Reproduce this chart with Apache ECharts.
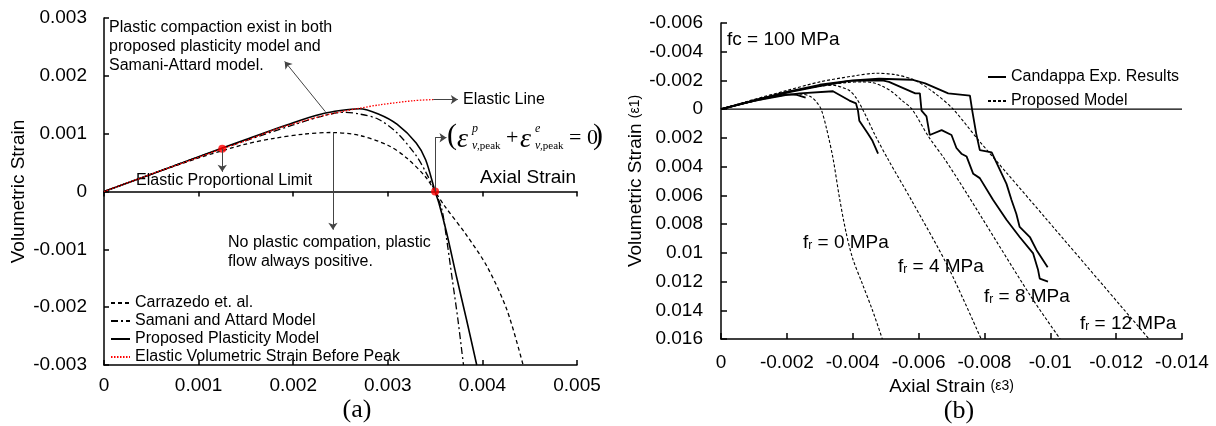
<!DOCTYPE html>
<html>
<head>
<meta charset="utf-8">
<script src="https://cdn.jsdelivr.net/npm/echarts@6/dist/echarts.min.js"></script>
<style>
  html, body { margin: 0; padding: 0; background: #fff; }
  #chart { width: 1216px; height: 426px; }
</style>
</head>
<body>
<div id="chart"></div>
<script>
// panel (a): axial strain vs volumetric strain, [x, y]
const carrazedo = [[0,0],[0.0005,0.0003],[0.001,0.00058],[0.0015,0.00082],[0.0018,0.00092],[0.0021,0.00099],[0.0024,0.00102],[0.0027,0.00097],[0.003,0.0008],[0.0032,0.00058],[0.0034,0.00025],[0.0035,0],[0.0036,-0.00025],[0.00383,-0.00075],[0.00405,-0.0013],[0.00426,-0.00205],[0.00443,-0.003]]
const samaniAttard = [[0,0],[0.0005,0.0003],[0.001,0.0006],[0.0015,0.00088],[0.002,0.00115],[0.0023,0.0013],[0.00253,0.00137],[0.0027,0.00134],[0.0029,0.00125],[0.0031,0.00101],[0.0033,0.00062],[0.0034,0.00034],[0.0035,0],[0.00357,-0.0003],[0.00362,-0.0008],[0.00368,-0.0015],[0.00374,-0.0022],[0.0038,-0.003]]
const proposedPlasticity = [[0,0],[0.0005,0.0003],[0.001,0.0006],[0.0015,0.0009],[0.002,0.00119],[0.0023,0.00134],[0.0025,0.0014],[0.0027,0.00143],[0.0029,0.00134],[0.0031,0.00116],[0.0033,0.00084],[0.0034,0.00055],[0.0035,0],[0.00354,-0.0002],[0.00362,-0.0007],[0.00373,-0.0015],[0.00383,-0.0022],[0.00394,-0.003]]
const elasticBeforePeak = [[0,0],[0.0005,0.0003],[0.001,0.00059],[0.00125,0.00074],[0.0015,0.00088],[0.00186,0.0011],[0.00234,0.00132],[0.00267,0.00143],[0.00292,0.0015],[0.00327,0.00157],[0.00348,0.00159]]
const markedPoints = [[0.00125,0.00074],[0.0035,0]]

// annotation arrows of panel (a), data coordinates
const arrowCompaction = [[0.00234,0.00138],[0.00191,0.00225]]
const arrowElasticLine = [[0.00348,0.00159],[0.00374,0.00159]]
const arrowPeakUp = [[0.0035,0],[0.0035,0.00093]]
const arrowPeakRight = [[0.0035,0.00093],[0.00362,0.00093]]
const arrowLimit = [[0.00125,0.00074],[0.00125,0.00034]]
const arrowNoPlastic = [[0.00242,0.00102],[0.00242,-0.00066]]

// panel (b): axial strain (e3) vs volumetric strain (e1)
const expFr0 = [[0,0],[-0.0005,-0.0003],[-0.001,-0.0006],[-0.0015,-0.00085],[-0.002,-0.00103],[-0.0023,-0.001],[-0.00257,-0.0008]]
const expFr4 = [[0,0],[-0.001,-0.00058],[-0.002,-0.001],[-0.0024,-0.0011],[-0.0034,-0.00125],[-0.0039,-0.0006],[-0.0041,-0.0004],[-0.00416,0.0001],[-0.0042,0.0008],[-0.00446,0.0017],[-0.0046,0.0022],[-0.00477,0.0031]]
const expFr8 = [[0,0],[-0.001,-0.0006],[-0.002,-0.00115],[-0.003,-0.0016],[-0.0039,-0.00197],[-0.0049,-0.002],[-0.0051,-0.0019],[-0.0059,-0.0011],[-0.00604,-0.0011],[-0.00609,0.0001],[-0.00624,0.0005],[-0.00634,0.0018],[-0.0067,0.00146],[-0.007,0.0018],[-0.00715,0.0027],[-0.0073,0.0031],[-0.00746,0.0033],[-0.00766,0.0045],[-0.00786,0.0048],[-0.00826,0.0063],[-0.00867,0.0077],[-0.00907,0.0089],[-0.00948,0.01004],[-0.00963,0.0112],[-0.00968,0.0118],[-0.00993,0.012]]
const expFr12 = [[0,0],[-0.001,-0.00062],[-0.002,-0.0012],[-0.003,-0.0017],[-0.004,-0.002],[-0.0048,-0.00212],[-0.0058,-0.00205],[-0.0062,-0.0018],[-0.0069,-0.0011],[-0.00756,-0.00095],[-0.00763,0.0001],[-0.00775,0.0017],[-0.00786,0.00285],[-0.00822,0.003],[-0.00867,0.0052],[-0.00882,0.0063],[-0.00897,0.0073],[-0.00907,0.0082],[-0.00938,0.0089],[-0.00958,0.0098],[-0.00992,0.011]]
const modelFr0 = [[0,0],[-0.0005,-0.00028],[-0.001,-0.00055],[-0.0015,-0.0008],[-0.002,-0.001],[-0.0024,-0.00105],[-0.0027,-0.0009],[-0.0029,-0.0005],[-0.00304,0],[-0.0032,0.0013],[-0.0034,0.0034],[-0.0036,0.0062],[-0.0038,0.0086],[-0.004,0.0104],[-0.0043,0.0122],[-0.0046,0.014],[-0.0049,0.016]]
const modelFr4 = [[0,0],[-0.001,-0.0006],[-0.002,-0.00115],[-0.0025,-0.0014],[-0.003,-0.0016],[-0.0034,-0.00167],[-0.0037,-0.0015],[-0.0039,-0.0013],[-0.0041,-0.0008],[-0.0043,0],[-0.0047,0.0019],[-0.0051,0.0036],[-0.0058,0.0064],[-0.0069,0.011],[-0.0079,0.016]]
const modelFr8 = [[0,0],[-0.001,-0.00062],[-0.002,-0.0012],[-0.003,-0.0016],[-0.0038,-0.00185],[-0.0043,-0.0019],[-0.0046,-0.00185],[-0.0049,-0.0016],[-0.0052,-0.0012],[-0.0055,-0.0006],[-0.0058,0],[-0.0063,0.0019],[-0.0068,0.0035],[-0.0075,0.006],[-0.0094,0.013],[-0.0103,0.016]]
const modelFr12 = [[0,0],[-0.001,-0.00068],[-0.002,-0.0013],[-0.003,-0.0019],[-0.004,-0.0023],[-0.0047,-0.0025],[-0.0053,-0.0024],[-0.0059,-0.002],[-0.0065,-0.0011],[-0.00705,0],[-0.0078,0.0021],[-0.0087,0.0045],[-0.0099,0.0077],[-0.013,0.016]]
const zeroLine = [[0,0],[-0.014,0]]

const SANS = '"Liberation Sans", Arial, sans-serif'
const SERIF = '"Liberation Serif", "Times New Roman", serif'
const INK = '#000'
const RED = '#ff0000'
const ARROW = '#444'

const NAMES_A = ['Carrazedo et. al.', 'Samani and Attard Model', 'Proposed Plasticity Model', 'Elastic Volumetric Strain Before Peak']
const NAMES_B = ['Candappa Exp. Results', 'Proposed Model']

const axisLine = { lineStyle: { color: INK, width: 1.5 } }
const tickLabel = { color: INK, fontSize: 19, fontFamily: SANS }
// legend shows only the line sample, no marker
const noMarker = { color: 'rgba(0,0,0,0)', borderColor: 'rgba(0,0,0,0)', borderWidth: 0, opacity: 0 }

function arrow(pts, head) {
  return [
    { coord: pts[0], symbol: 'none' },
    { coord: pts[1], symbol: head ? 'arrow' : 'none' },
  ]
}

function lineA(name, data, style, z) {
  return {
    name, type: 'line', data, xAxisIndex: 0, yAxisIndex: 0,
    symbol: 'none', smooth: 0.3, lineStyle: style, itemStyle: { color: style.color },
    z: z || 2, silent: true,
  }
}

function lineB(name, data, style) {
  return {
    name, type: 'line', data, xAxisIndex: 2, yAxisIndex: 1,
    symbol: 'none', smooth: style.type === 'solid' ? false : 0.3,
    lineStyle: style, itemStyle: { color: INK }, silent: true,
  }
}

const expStyle = { color: INK, width: 1.8, type: 'solid' }
const modelStyle = { color: INK, width: 1.1, type: [3, 2] }

function frLabel(value, x, y) {
  return {
    type: 'text', x, y,
    style: {
      text: '{a|f}{s|r}{a| = ' + value + ' MPa}',
      verticalAlign: 'middle', fill: INK,
      rich: {
        a: { fontSize: 19, fontFamily: SANS, fill: INK },
        s: { fontSize: 12, fontFamily: SANS, fill: INK, padding: [6, 0, 0, 0] },
      },
    },
  }
}

function txt(text, x, y, size, extra) {
  return {
    type: 'text', x, y,
    style: Object.assign({ text, fontSize: size, fontFamily: SANS, fill: INK, verticalAlign: 'middle' }, extra || {}),
  }
}

const chart = echarts.init(document.getElementById('chart'), null, { renderer: 'canvas' })

const option = {
  animation: false,
  backgroundColor: '#fff',
  grid: [
    { left: 104, top: 18, width: 473, height: 347 },
    { left: 721, top: 23, width: 461, height: 316 },
  ],
  xAxis: [
    {
      gridIndex: 0, type: 'value', min: 0, max: 0.005, interval: 0.001,
      axisLine: Object.assign({ onZero: true }, axisLine),
      axisTick: { inside: false, length: 5, lineStyle: { color: INK, width: 1.5 } },
      axisLabel: Object.assign({ margin: 11 }, tickLabel),
      splitLine: { show: false },
    },
    {
      gridIndex: 0, type: 'value', min: 0, max: 0.005, interval: 0.001, position: 'bottom',
      axisLine: Object.assign({ onZero: true }, axisLine),
      axisTick: { inside: true, length: 5, lineStyle: { color: INK, width: 1.5 } },
      axisLabel: { show: false },
      splitLine: { show: false },
    },
    {
      gridIndex: 1, type: 'value', min: -0.014, max: 0, interval: 0.002, inverse: true,
      axisLine: Object.assign({ onZero: false }, axisLine),
      axisTick: { inside: true, length: 6, lineStyle: { color: INK, width: 1.5 } },
      axisLabel: Object.assign({ margin: 14 }, tickLabel),
      splitLine: { show: false },
      name: '{a|Axial Strain }{s|(ε3)}', nameLocation: 'middle', nameGap: 36,
      nameTextStyle: {
        rich: {
          a: { fontSize: 19, fontFamily: SANS, color: INK },
          s: { fontSize: 14, fontFamily: SANS, color: INK },
        },
      },
    },
  ],
  yAxis: [
    {
      gridIndex: 0, type: 'value', min: -0.003, max: 0.003, interval: 0.001,
      axisLine: Object.assign({ show: true, onZero: false }, axisLine),
      axisTick: { show: true, inside: true, length: 5, lineStyle: { color: INK, width: 1.5 } },
      axisLabel: Object.assign({ margin: 17 }, tickLabel),
      splitLine: { show: false },
      name: 'Volumetric Strain', nameLocation: 'middle', nameGap: 76,
      nameTextStyle: { fontSize: 19, fontFamily: SANS, color: INK },
    },
    {
      gridIndex: 1, type: 'value', min: -0.006, max: 0.016, interval: 0.002, inverse: true,
      axisLine: Object.assign({ show: true, onZero: false }, axisLine),
      axisTick: { show: true, inside: true, length: 6, lineStyle: { color: INK, width: 1.5 } },
      axisLabel: Object.assign({ margin: 18 }, tickLabel),
      splitLine: { show: false },
      name: '{a|Volumetric Strain }{s|(ε1)}', nameLocation: 'middle', nameGap: 76,
      nameTextStyle: {
        rich: {
          a: { fontSize: 19, fontFamily: SANS, color: INK },
          s: { fontSize: 14, fontFamily: SANS, color: INK },
        },
      },
    },
  ],
  legend: [
    {
      data: NAMES_A, orient: 'vertical', left: 105, top: 290,
      itemWidth: 19, itemHeight: 10, itemGap: 2, selectedMode: false,
      itemStyle: noMarker,
      textStyle: { fontSize: 16, fontFamily: SANS, color: INK },
    },
    {
      data: NAMES_B, orient: 'vertical', left: 982, top: 64,
      itemWidth: 18, itemHeight: 10, itemGap: 8, selectedMode: false,
      itemStyle: noMarker,
      textStyle: { fontSize: 16, fontFamily: SANS, color: INK },
    },
  ],
  series: [
    lineA(NAMES_A[0], carrazedo, { color: INK, width: 1.3, type: [4, 3] }),
    lineA(NAMES_A[1], samaniAttard, { color: INK, width: 1.3, type: [7, 3, 2, 3] }),
    lineA(NAMES_A[2], proposedPlasticity, { color: INK, width: 1.6, type: 'solid' }),
    lineA(NAMES_A[3], elasticBeforePeak, { color: RED, width: 1.3, type: [1.5, 1.5] }, 3),
    {
      type: 'scatter', data: markedPoints, xAxisIndex: 0, yAxisIndex: 0,
      symbolSize: 8, itemStyle: { color: RED }, z: 4, silent: true,
      markLine: {
        silent: true, symbolSize: 7, animation: false,
        label: { show: false },
        lineStyle: { color: ARROW, width: 1, type: 'solid' },
        data: [
          arrow(arrowCompaction, true),
          arrow(arrowElasticLine, true),
          arrow(arrowPeakUp, false),
          arrow(arrowPeakRight, true),
          arrow(arrowLimit, true),
          arrow(arrowNoPlastic, true),
        ],
      },
    },
    lineB('zero', zeroLine, { color: INK, width: 1.2, type: 'solid' }),
    lineB(NAMES_B[0], expFr0, expStyle),
    lineB(NAMES_B[0], expFr4, expStyle),
    lineB(NAMES_B[0], expFr8, expStyle),
    lineB(NAMES_B[0], expFr12, expStyle),
    lineB(NAMES_B[1], modelFr0, modelStyle),
    lineB(NAMES_B[1], modelFr4, modelStyle),
    lineB(NAMES_B[1], modelFr8, modelStyle),
    lineB(NAMES_B[1], modelFr12, modelStyle),
  ],
  graphic: [
    txt('Plastic compaction exist in both\nproposed plasticity model and\nSamani-Attard model.', 109, 18.5, 16, { verticalAlign: 'top', lineHeight: 19 }),
    txt('Elastic Line', 463, 100, 16),
    txt('Elastic Proportional Limit', 136, 181, 16),
    txt('Axial Strain', 480, 178, 19),
    txt('No plastic compation, plastic\nflow always positive.', 228, 233.5, 16, { verticalAlign: 'top', lineHeight: 19 }),
    // peak condition formula
    txt('(', 447, 136, 30, { fontFamily: SERIF }),
    txt('ε', 457, 140, 28, { fontFamily: SERIF, fontStyle: 'italic' }),
    txt('p', 472, 129, 12, { fontFamily: SERIF, fontStyle: 'italic' }),
    txt('v', 472, 146, 12, { fontFamily: SERIF, fontStyle: 'italic' }),
    txt(',peak', 477, 146, 11, { fontFamily: SERIF }),
    txt('+', 506, 138, 22, { fontFamily: SERIF }),
    txt('ε', 520, 140, 28, { fontFamily: SERIF, fontStyle: 'italic' }),
    txt('e', 535, 129, 12, { fontFamily: SERIF, fontStyle: 'italic' }),
    txt('v', 535, 146, 12, { fontFamily: SERIF, fontStyle: 'italic' }),
    txt(',peak', 540, 146, 11, { fontFamily: SERIF }),
    txt('= 0', 569, 138, 22, { fontFamily: SERIF }),
    txt(')', 593, 136, 30, { fontFamily: SERIF }),
    txt('(a)', 357, 410, 26, { fontFamily: SERIF, align: 'center' }),
    // panel (b)
    txt('fc = 100 MPa', 727, 40, 19),
    frLabel(0, 803, 243),
    frLabel(4, 898, 267),
    frLabel(8, 984, 297),
    frLabel(12, 1080, 324),
    txt('(b)', 959, 411, 26, { fontFamily: SERIF, align: 'center' }),
  ],
}

chart.setOption(option)
</script>
</body>
</html>
